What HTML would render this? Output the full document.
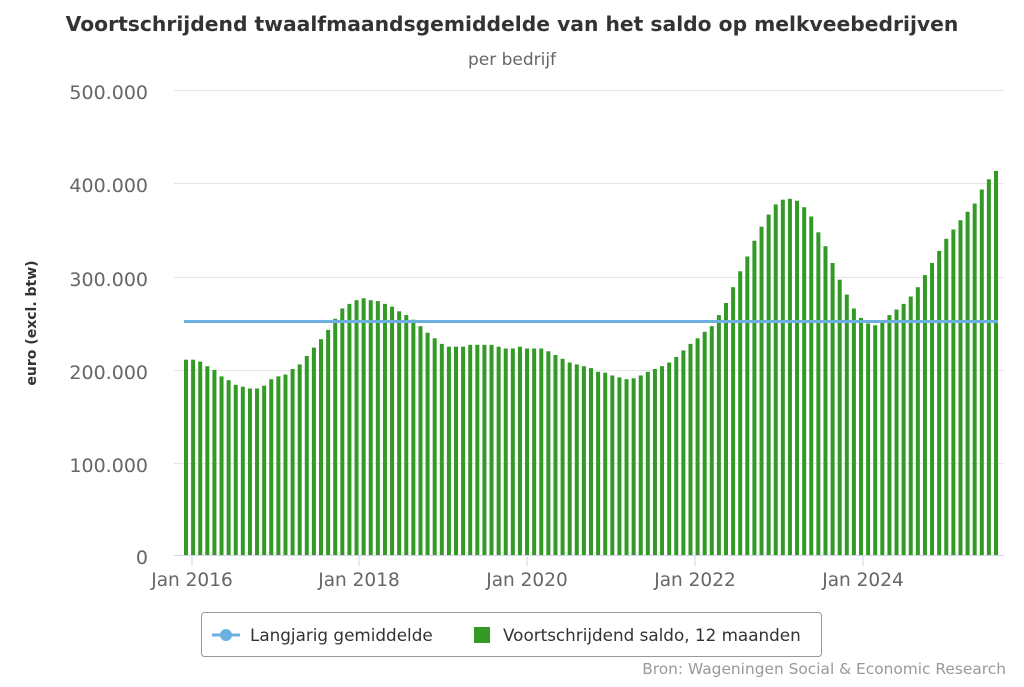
<!DOCTYPE html>
<html><head><meta charset="utf-8"><style>
body{margin:0;background:#fff;font-family:"DejaVu Sans",sans-serif}
</style></head><body>
<svg width="1024" height="683" xmlns="http://www.w3.org/2000/svg" font-family="DejaVu Sans, sans-serif">
<text x="512" y="31" text-anchor="middle" font-size="20.3" font-weight="bold" fill="#333">Voortschrijdend twaalfmaandsgemiddelde van het saldo op melkveebedrijven</text>
<text x="512" y="65" text-anchor="middle" font-size="17" fill="#666">per bedrijf</text>
<g stroke="#e6e6e6" stroke-width="1">
<line x1="174" x2="1004" y1="90.5" y2="90.5"/><line x1="174" x2="1004" y1="183.5" y2="183.5"/>
<line x1="174" x2="1004" y1="277.5" y2="277.5"/><line x1="174" x2="1004" y1="370.5" y2="370.5"/>
<line x1="174" x2="1004" y1="463.5" y2="463.5"/>
</g>
<g font-size="19" fill="#666" text-anchor="end">
<text x="148" y="99">500.000</text><text x="148" y="192">400.000</text><text x="148" y="286">300.000</text>
<text x="148" y="379">200.000</text><text x="148" y="472">100.000</text><text x="148" y="564">0</text>
</g>
<text transform="translate(36,323) rotate(-90)" text-anchor="middle" font-size="14" font-weight="bold" fill="#333">euro (excl. btw)</text>
<g id="bars" fill="#339a26"></g>
<line x1="174" x2="1004" y1="555.5" y2="555.5" stroke="#ccd6eb"/>
<g stroke="#ccd6eb"><line x1="192" x2="192" y1="556" y2="566"/><line x1="359" x2="359" y1="556" y2="566"/><line x1="527" x2="527" y1="556" y2="566"/><line x1="695" x2="695" y1="556" y2="566"/><line x1="863" x2="863" y1="556" y2="566"/></g>
<g font-size="18.5" fill="#666" text-anchor="middle">
<text x="192" y="586">Jan 2016</text><text x="359" y="586">Jan 2018</text><text x="527" y="586">Jan 2020</text><text x="695" y="586">Jan 2022</text><text x="863" y="586">Jan 2024</text>
</g>
<line x1="184" x2="998" y1="321.5" y2="321.5" stroke="#6cb0e0" stroke-width="3"/>
<rect x="201.5" y="612.5" width="620" height="44" rx="3" fill="#fff" stroke="#999"/>
<line x1="212" x2="240" y1="635" y2="635" stroke="#6cb0e0" stroke-width="3"/>
<circle cx="226" cy="635" r="6" fill="#6cb0e0"/>
<text x="250" y="641" font-size="16.8" fill="#333">Langjarig gemiddelde</text>
<rect x="474" y="627" width="16" height="16" fill="#339a26"/>
<text x="503" y="641" font-size="16.8" fill="#333">Voortschrijdend saldo, 12 maanden</text>
<text x="1006" y="674" text-anchor="end" font-size="15.4" fill="#999">Bron: Wageningen Social &amp; Economic Research</text>
</svg>
<script>
var v=[210,210,208,203,199,192,188,183,181,179,179,182,
189,192,194,200,205,214,223,232,242,254,265,270,
274,276,274,273,270,267,262,258,253,246,239,233,
227,224,224,224,226,226,226,226,224,222,222,224,
222,222,222,219,215,211,207,205,203,201,197,196,
193,191,189,190,193,197,200,203,207,213,220,227,
233,240,246,258,271,288,305,321,338,353,366,377,
382,383,381,374,364,347,332,314,296,280,265,255,
249,247,252,258,264,270,278,288,301,314,327,340,
350,360,369,378,393,404,413];
var g=document.getElementById('bars'),s='';
for(var i=0;i<v.length;i++){var h=v[i]*0.93;var x=186+i*(810/114)-2;
s+='<rect x="'+x.toFixed(2)+'" y="'+(555-h).toFixed(1)+'" width="4" height="'+h.toFixed(1)+'"/>';}
g.innerHTML=s;
</script>
</body></html>
